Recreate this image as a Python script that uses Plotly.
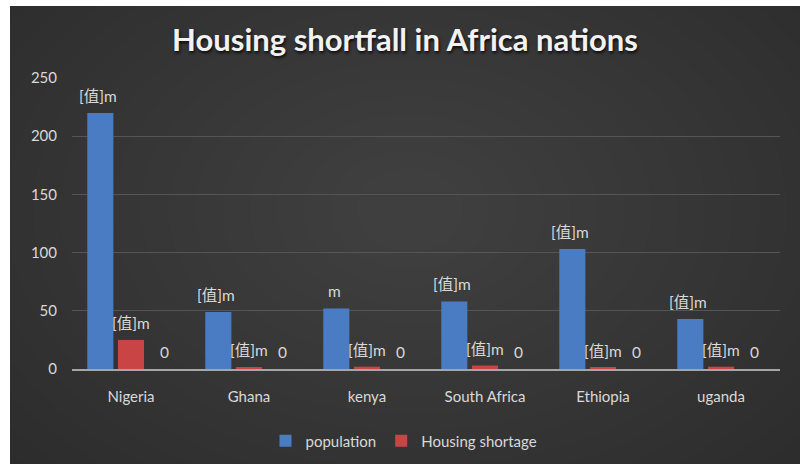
import plotly.graph_objects as go

countries = ["Nigeria", "Ghana", "kenya", "South Africa", "Ethiopia", "uganda"]
population = [220, 49, 52, 58, 103, 43]
housing_shortage = [25, 1.5, 2, 3, 1.2, 2]
third_series = [0, 0, 0, 0, 0, 0]
pop_labels = ["[值]m", "[值]m", "m", "[值]m", "[值]m", "[值]m"]
housing_labels = ["[值]m", "[值]m", "[值]m", "[值]m", "[值]m", "[值]m"]
third_labels = ["0", "0", "0", "0", "0", "0"]
y_ticks = [0, 50, 100, 150, 200, 250]

FONT = "Lato, 'Noto Sans CJK SC', sans-serif"
TXT = "#d9d9d9"

fig = go.Figure()
fig.add_trace(go.Bar(x=countries, y=population, name="population",
                     marker=dict(color="#4a7cc4", line=dict(width=0))))
fig.add_trace(go.Bar(x=countries, y=housing_shortage, name="Housing shortage",
                     marker=dict(color="#c94444", line=dict(width=0))))
fig.add_trace(go.Bar(x=countries, y=third_series, name="Series3", showlegend=False,
                     marker=dict(color="#8aa84a", line=dict(width=0))))

annotations = []
for series, labels, dx in ((population, pop_labels, -33), (housing_shortage, housing_labels, 0),
                           (third_series, third_labels, 33)):
    for c, v, t in zip(countries, series, labels):
        annotations.append(dict(x=c, y=v, xref="x", yref="y", text=t, showarrow=False,
                                xshift=dx, yshift=17, yanchor="middle",
                                font=dict(family=FONT, size=15.5, color=TXT)))

W, H = 800, 464
l, r, t, b = 72, 20, 78, 95
pw, ph = W - l - r, H - t - b
def px_x(p):
    return (p - l) / pw
def px_y(p):
    return (H - b - p) / ph

shapes = []
cx, cy = 410, 210
n = 22
for i in range(n):
    rx = 620 - i * 27
    ry = 420 - i * 18
    shapes.append(dict(type="circle", xref="paper", yref="paper", layer="below",
                       x0=px_x(cx - rx), x1=px_x(cx + rx), y0=px_y(cy + ry), y1=px_y(cy - ry),
                       fillcolor="rgba(255,255,255,0.0075)", line=dict(width=0)))
shapes.append(dict(type="rect", xref="paper", yref="paper", layer="above",
                   x0=px_x(-5), x1=px_x(805), y0=px_y(-5), y1=px_y(6),
                   fillcolor="white", line=dict(width=0)))
shapes.append(dict(type="rect", xref="paper", yref="paper", layer="above",
                   x0=px_x(-5), x1=px_x(10), y0=px_y(-5), y1=px_y(470),
                   fillcolor="white", line=dict(width=0)))

fig.update_layout(
    width=W, height=H,
    margin=dict(l=l, r=r, t=t, b=b, autoexpand=False),
    paper_bgcolor="#292929",
    plot_bgcolor="rgba(0,0,0,0)",
    barmode="group", bargap=0.22, bargroupgap=0.15,
    title=dict(text="<b>Housing shortfall in Africa nations</b>", xref="container", x=405 / W,
               xanchor="center", yref="container", y=1 - 40 / H, yanchor="middle",
               font=dict(family=FONT, size=31, color="#f2f2f2", shadow="1px 2px 3px rgba(0,0,0,0.8)")),
    font=dict(family=FONT, size=15, color=TXT),
    legend=dict(orientation="h", x=px_x(404), xanchor="center", y=px_y(441), yanchor="middle",
                font=dict(family=FONT, size=15, color=TXT), bgcolor="rgba(0,0,0,0)",
                itemwidth=30, traceorder="normal", tracegroupgap=0),
    xaxis=dict(showgrid=False, showline=True, linecolor="#a6a6a6", linewidth=1.5,
               tickfont=dict(family=FONT, size=15, color=TXT), ticklabelstandoff=13,
               automargin=False),
    yaxis=dict(range=[0, 250], tickvals=y_ticks, showgrid=True, gridcolor="#555555",
               gridwidth=1, zeroline=False, showline=False, automargin=False,
               tickfont=dict(family=FONT, size=15, color=TXT), ticklabelstandoff=14),
    annotations=annotations,
    shapes=shapes,
    showlegend=True,
)

fig.write_html("out.html")
